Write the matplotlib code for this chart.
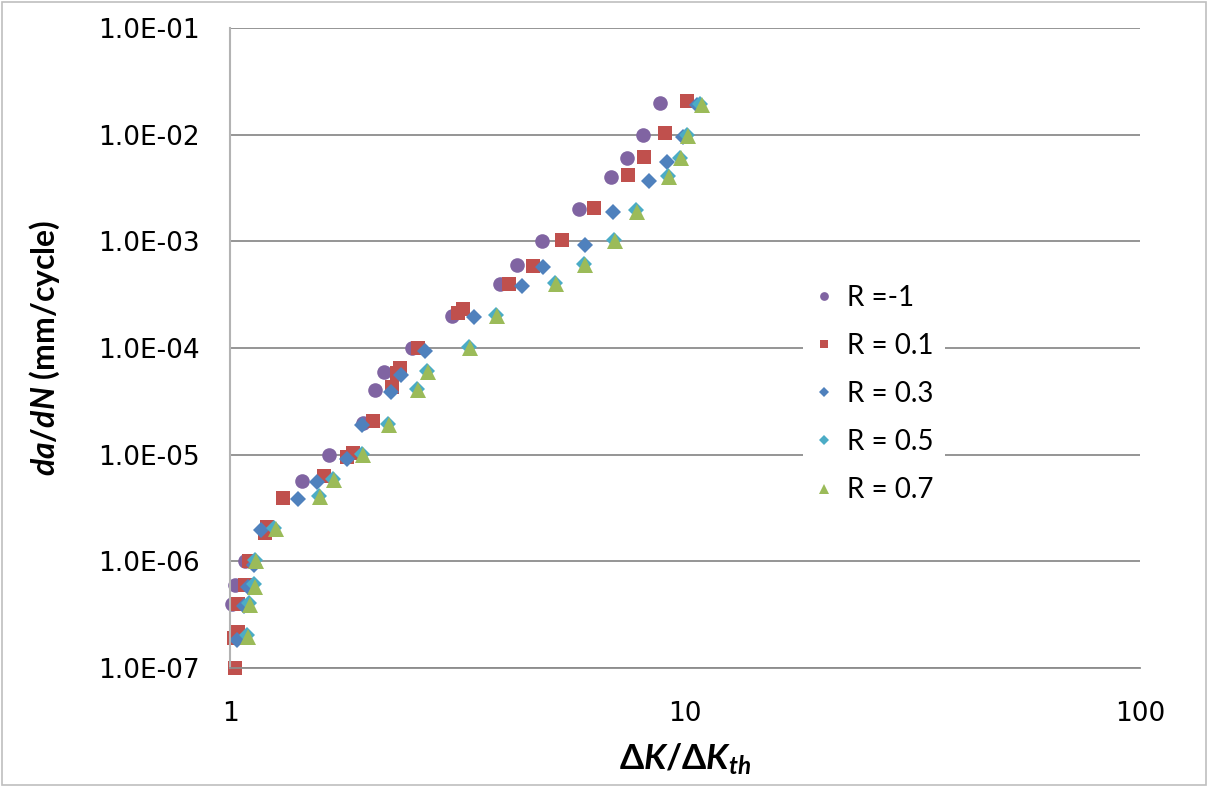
import math
import matplotlib.pyplot as plt
from matplotlib.ticker import FixedLocator, FuncFormatter, NullLocator
from matplotlib.patches import Rectangle

# fontes para os rótulos dos eixos (negrito / negrito itálico)
plt.rcParams['mathtext.fontset'] = 'custom'
plt.rcParams['mathtext.rm'] = 'Lato:bold'
plt.rcParams['mathtext.it'] = 'Lato:bold:italic'
plt.rcParams['mathtext.bf'] = 'Lato:bold'

# dados (ΔK/ΔKth, da/dN)
rm1_dk = [8.81, 8.08, 7.46, 6.88, 5.85, 4.85, 4.27, 3.92, 3.08, 2.51, 2.18, 2.08,
          1.96, 1.65, 1.44, 1.079, 1.026, 1.01]
rm1_dadn = [2e-2, 1e-2, 6e-3, 4e-3, 2e-3, 1e-3, 6e-4, 4e-4, 2e-4, 1e-4, 6e-5, 4e-5,
            2e-5, 1e-5, 5.7e-6, 1e-6, 6e-7, 4e-7]

r01_dk = [10.1, 9.04, 8.13, 7.49, 6.31, 5.37, 4.63, 4.10, 3.17, 3.25, 2.59, 2.36,
          2.33, 2.27, 2.06, 1.86, 1.81, 1.61, 1.31, 1.206, 1.194, 1.10, 1.079,
          1.041, 1.041, 1.02, 1.026]
r01_dadn = [2.07e-2, 1.04e-2, 6.2e-3, 4.2e-3, 2.06e-3, 1.03e-3, 5.9e-4, 4e-4, 2.13e-4,
            2.32e-4, 1e-4, 6.5e-5, 5.8e-5, 4.3e-5, 2.07e-5, 1.04e-5, 9.5e-6, 6.3e-6,
            3.95e-6, 2.1e-6, 1.84e-6, 1e-6, 6e-7, 4e-7, 2.18e-7, 1.91e-7, 1e-7]

r03_dk = [10.6, 9.90, 9.13, 8.33, 6.95, 6.03, 4.87, 4.38, 3.44, 2.68, 2.38, 2.26,
          1.95, 1.81, 1.55, 1.41, 1.17, 1.129, 1.095, 1.073, 1.036]
r03_dadn = [1.9e-2, 9.5e-3, 5.6e-3, 3.7e-3, 1.9e-3, 9.2e-4, 5.7e-4, 3.8e-4, 1.95e-4,
            9.3e-5, 5.6e-5, 3.9e-5, 1.9e-5, 9.2e-6, 5.6e-6, 3.85e-6, 1.97e-6, 9.2e-7,
            5.7e-7, 3.8e-7, 1.85e-7]

r05_dk = [10.8, 10.08, 9.74, 9.16, 7.80, 6.98, 6.00, 5.18, 3.84, 3.35, 2.71, 2.58,
          2.23, 1.95, 1.68, 1.57, 1.25, 1.135, 1.13, 1.10, 1.09]
r05_dadn = [1.95e-2, 9.9e-3, 6.1e-3, 4.1e-3, 1.95e-3, 1.02e-3, 6.1e-4, 4.1e-4, 2.05e-4,
            1.02e-4, 6.1e-5, 4.1e-5, 1.95e-5, 1.02e-5, 5.9e-6, 4.1e-6, 2.05e-6,
            1.02e-6, 6.1e-7, 4.1e-7, 2.05e-7]

r07_dk = [10.9, 10.15, 9.80, 9.22, 7.84, 7.02, 6.03, 5.21, 3.86, 3.37, 2.72, 2.59,
          2.24, 1.96, 1.69, 1.58, 1.26, 1.14, 1.135, 1.106, 1.095]
r07_dadn = [1.9e-2, 9.7e-3, 6e-3, 4e-3, 1.9e-3, 1e-3, 6e-4, 4e-4, 2e-4, 1e-4, 6e-5,
            4e-5, 1.9e-5, 1e-5, 5.8e-6, 4e-6, 2e-6, 1e-6, 5.8e-7, 3.9e-7, 1.95e-7]

y_ticks = [1e-7, 1e-6, 1e-5, 1e-4, 1e-3, 1e-2, 1e-1]
x_ticks = [1, 10, 100]

fig = plt.figure(figsize=(12.08, 7.87), dpi=100)
ax = fig.add_axes([0.1904, 0.1512, 0.7533, 0.8132])

# borda do gráfico
fig.patches.append(Rectangle((0.002, 0.002), 0.996, 0.996, transform=fig.transFigure,
                             fill=False, edgecolor='#bfbfbf', linewidth=1.2))

ax.plot(rm1_dk, rm1_dadn, 'o', color='#8064A2', ms=10.5, mew=0, label='R =-1', clip_on=False)
ax.plot(r01_dk, r01_dadn, 's', color='#C0504D', ms=10, mew=0, label='R = 0.1', clip_on=False)
ax.plot(r03_dk, r03_dadn, 'D', color='#4F81BD', ms=8.5, mew=0, label='R = 0.3', clip_on=False)
ax.plot(r05_dk, r05_dadn, 'D', color='#4BACC6', ms=8.5, mew=0, label='R = 0.5', clip_on=False)
ax.plot(r07_dk, r07_dadn, '^', color='#9BBB59', ms=11, mew=0, label='R = 0.7', clip_on=False)

ax.set_xscale('log')
ax.set_yscale('log')
ax.set_xlim(1, 100)
ax.set_ylim(1e-7, 1e-1)

ax.yaxis.set_major_locator(FixedLocator(y_ticks))
ax.yaxis.set_minor_locator(NullLocator())
ax.xaxis.set_major_locator(FixedLocator(x_ticks))
ax.xaxis.set_minor_locator(NullLocator())
ax.yaxis.set_major_formatter(FuncFormatter(lambda v, p: '1.0E-%02d' % round(-math.log10(v))))
ax.xaxis.set_major_formatter(FuncFormatter(lambda v, p: '%d' % v))
ax.tick_params(axis='both', length=0, labelsize=19)
ax.tick_params(axis='y', pad=22)
ax.tick_params(axis='x', pad=24)

ax.grid(True, axis='y', color='#8c8c8c', linewidth=1.3)
ax.set_axisbelow(True)
for s in ['top', 'right']:
    ax.spines[s].set_visible(False)
ax.spines['left'].set_color('#b3b3b3')
ax.spines['left'].set_linewidth(1.5)
ax.spines['bottom'].set_color('#8c8c8c')
ax.spines['bottom'].set_linewidth(1.3)

ax.set_ylabel(r'$\mathit{da/dN}$ (mm/cycle)', fontsize=23, fontweight='bold',
              fontfamily='Lato', labelpad=26)
ax.set_xlabel(r'$\Delta\mathit{K}/\Delta\mathit{K}_{\mathit{th}}$', fontsize=25,
              fontweight='bold', fontfamily='Lato', labelpad=10)

leg = ax.legend(loc='center left', bbox_to_anchor=(0.653, 0.4994),
                bbox_transform=fig.transFigure, frameon=True, fancybox=False,
                edgecolor='none', facecolor='white', framealpha=1,
                fontsize=20, markerscale=0.6, handlelength=0.7, handletextpad=0.5,
                labelspacing=0.8, borderpad=0.4)
for t in leg.get_texts():
    t.set_fontfamily('Lato')

fig.savefig('out.png', dpi=100)
